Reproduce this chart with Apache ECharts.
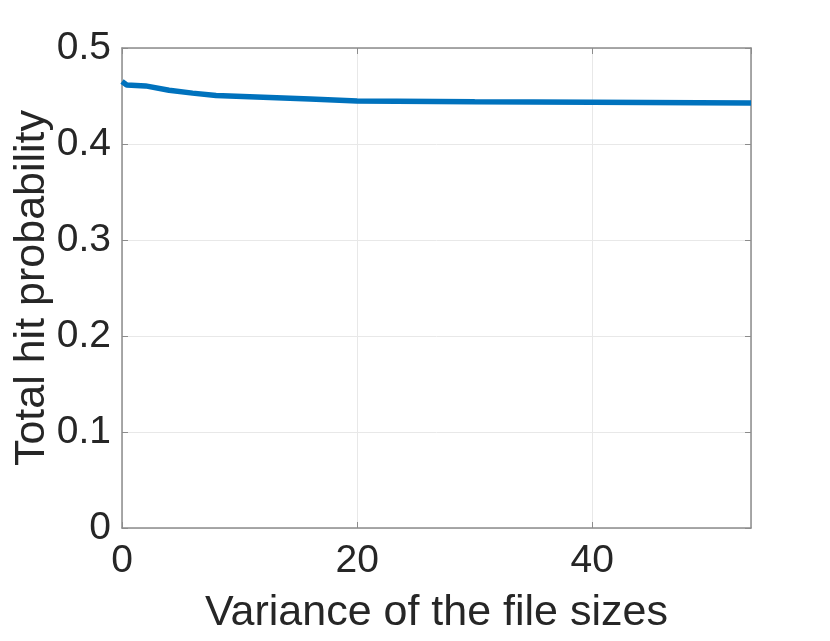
<!DOCTYPE html>
<html><head><meta charset="utf-8">
<script src="https://cdn.jsdelivr.net/npm/echarts@6/dist/echarts.min.js"></script>
<style>html,body{margin:0;padding:0;background:#fff}#c{width:830px;height:641px}</style>
</head><body><div id="c"></div>
<script>
var xValues = [0, 0.4, 2, 4, 6, 8, 12, 16, 20, 30, 40, 53.5];
var yValues = [0.4650, 0.4615, 0.4605, 0.4560, 0.4530, 0.4505, 0.4488, 0.4468, 0.4448, 0.4440, 0.4434, 0.4426];
var xTicks = [0, 20, 40];
var yTicks = [0, 0.1, 0.2, 0.3, 0.4, 0.5];
var xLabel = 'Variance of the file sizes';
var yLabel = 'Total hit probability';

var data = xValues.map(function(x, i){ return [x, yValues[i]]; });
var axisCol = '#8c8c8c';
var font = 'Liberation Sans';
var chart = echarts.init(document.getElementById('c'));
chart.setOption({
  animation: false,
  grid: {left: 122, right: 79, top: 48, bottom: 113, containLabel: false, outerBoundsMode: 'none'},
  xAxis: [{
    type: 'value', min: 0, max: 53.5, interval: 20,
    name: xLabel, nameLocation: 'middle', nameGap: 64, nameMoveOverlap: false,
    nameTextStyle: {fontFamily: font, fontSize: 43, color: '#262626'},
    axisLine: {show: true, onZero: false, lineStyle: {color: axisCol, width: 1.5}},
    axisTick: {show: true, inside: true, length: 6, lineStyle: {color: axisCol}},
    axisLabel: {fontFamily: font, fontSize: 39, color: '#262626', margin: 14,
      showMaxLabel: false, formatter: function(v){ return xTicks.indexOf(v) >= 0 ? String(v) : ''; }},
    splitLine: {show: true, lineStyle: {color: '#e8e8e8', width: 1}}
  }, {
    type: 'value', min: 0, max: 53.5, interval: 20, position: 'top',
    axisLine: {show: true, onZero: false, lineStyle: {color: axisCol, width: 1.5}},
    axisTick: {show: true, inside: true, length: 6, lineStyle: {color: axisCol}},
    axisLabel: {show: false}, splitLine: {show: false}
  }],
  yAxis: [{
    type: 'value', min: 0, max: 0.5, interval: 0.1,
    name: yLabel, nameLocation: 'middle', nameGap: 68, nameMoveOverlap: false,
    nameTextStyle: {fontFamily: font, fontSize: 43, color: '#262626'},
    axisLine: {show: true, onZero: false, lineStyle: {color: axisCol, width: 1.5}},
    axisTick: {show: true, inside: true, length: 6, lineStyle: {color: axisCol}},
    axisLabel: {fontFamily: font, fontSize: 39, color: '#262626', margin: 11,
      formatter: function(v){ var r = Math.round(v*10)/10; return yTicks.indexOf(r) >= 0 ? (r === 0 ? '0' : r.toFixed(1)) : ''; }},
    splitLine: {show: true, lineStyle: {color: '#e8e8e8', width: 1}}
  }, {
    type: 'value', min: 0, max: 0.5, interval: 0.1, position: 'right',
    axisLine: {show: true, onZero: false, lineStyle: {color: axisCol, width: 1.5}},
    axisTick: {show: true, inside: true, length: 6, lineStyle: {color: axisCol}},
    axisLabel: {show: false}, splitLine: {show: false}
  }],
  series: [{
    type: 'line', data: data, showSymbol: false, symbol: 'none',
    lineStyle: {color: '#0072BD', width: 5.5}, clip: true
  }]
});
</script></body></html>
